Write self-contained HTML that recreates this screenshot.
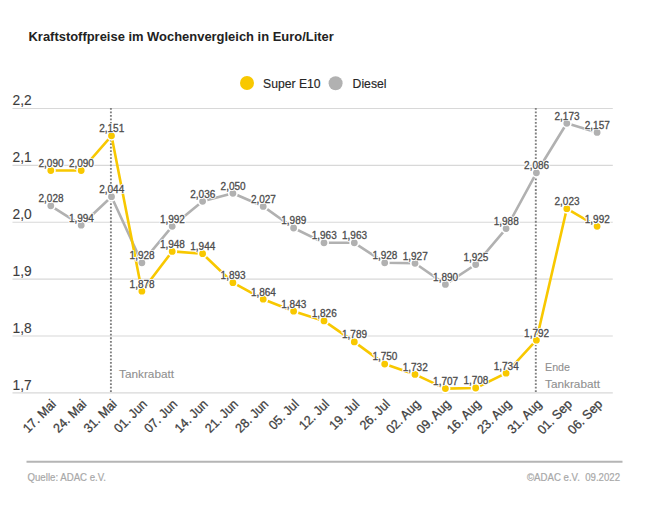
<!DOCTYPE html>
<html><head><meta charset="utf-8"><style>html,body{margin:0;padding:0;background:#fff;width:650px;height:515px;overflow:hidden}</style></head>
<body><svg width="650" height="515" viewBox="0 0 650 515" style="display:block;font-family:'Liberation Sans', sans-serif"><rect width="650" height="515" fill="#fff"/><text x="28.5" y="41.2" font-size="12.95" font-weight="bold" fill="#222">Kraftstoffpreise im Wochenvergleich in Euro/Liter</text><circle cx="247" cy="83" r="7" fill="#f8c800"/><text x="263" y="87.8" font-size="12.2" fill="#262626" stroke="#262626" stroke-width="0.15">Super E10</text><circle cx="335.6" cy="83.2" r="7" fill="#b1b1b1"/><text x="352.6" y="88" font-size="12.2" fill="#262626" stroke="#262626" stroke-width="0.15">Diesel</text><line x1="12.5" y1="108.50" x2="612.8" y2="108.50" stroke="#d8d8d8" stroke-width="1.2"/><text x="12.6" y="104.9" font-size="13.8" fill="#3c3c3c" stroke="#3c3c3c" stroke-width="0.1">2,2</text><line x1="12.5" y1="165.38" x2="612.8" y2="165.38" stroke="#d8d8d8" stroke-width="1.2"/><text x="12.6" y="161.9" font-size="13.8" fill="#3c3c3c" stroke="#3c3c3c" stroke-width="0.1">2,1</text><line x1="12.5" y1="222.25" x2="612.8" y2="222.25" stroke="#d8d8d8" stroke-width="1.2"/><text x="12.6" y="218.9" font-size="13.8" fill="#3c3c3c" stroke="#3c3c3c" stroke-width="0.1">2,0</text><line x1="12.5" y1="279.12" x2="612.8" y2="279.12" stroke="#d8d8d8" stroke-width="1.2"/><text x="12.6" y="275.9" font-size="13.8" fill="#3c3c3c" stroke="#3c3c3c" stroke-width="0.1">1,9</text><line x1="12.5" y1="336.00" x2="612.8" y2="336.00" stroke="#d8d8d8" stroke-width="1.2"/><text x="12.6" y="332.9" font-size="13.8" fill="#3c3c3c" stroke="#3c3c3c" stroke-width="0.1">1,8</text><line x1="12.5" y1="392.88" x2="612.8" y2="392.88" stroke="#d8d8d8" stroke-width="1.2"/><text x="12.6" y="389.9" font-size="13.8" fill="#3c3c3c" stroke="#3c3c3c" stroke-width="0.1">1,7</text><line x1="110.9" y1="107.9" x2="110.9" y2="393.60000000000014" stroke="#808080" stroke-width="1.9" stroke-dasharray="1.8,1.73"/><line x1="535.8" y1="107.9" x2="535.8" y2="393.60000000000014" stroke="#808080" stroke-width="1.9" stroke-dasharray="1.8,1.73"/><text x="119" y="377.8" font-size="11.8" fill="#8f8f8f" stroke="#8f8f8f" stroke-width="0.1">Tankrabatt</text><text x="545" y="371.1" font-size="11.8" textLength="25" lengthAdjust="spacingAndGlyphs" fill="#8f8f8f" stroke="#8f8f8f" stroke-width="0.1">Ende</text><text x="545" y="387.9" font-size="11.8" fill="#8f8f8f" stroke="#8f8f8f" stroke-width="0.1">Tankrabatt</text><text transform="translate(56.8,404.9) rotate(-45) scale(0.95,1)" text-anchor="end" font-size="13" fill="#3e3e3e" stroke="#3e3e3e" stroke-width="0.3" xml:space="preserve">17. Mai</text><text transform="translate(87.2,404.9) rotate(-45) scale(0.95,1)" text-anchor="end" font-size="13" fill="#3e3e3e" stroke="#3e3e3e" stroke-width="0.3" xml:space="preserve">24. Mai</text><text transform="translate(117.5,404.9) rotate(-45) scale(0.95,1)" text-anchor="end" font-size="13" fill="#3e3e3e" stroke="#3e3e3e" stroke-width="0.3" xml:space="preserve">31. Mai</text><text transform="translate(147.9,404.9) rotate(-45) scale(0.95,1)" text-anchor="end" font-size="13" fill="#3e3e3e" stroke="#3e3e3e" stroke-width="0.3" xml:space="preserve">01. Jun</text><text transform="translate(178.2,404.9) rotate(-45) scale(0.95,1)" text-anchor="end" font-size="13" fill="#3e3e3e" stroke="#3e3e3e" stroke-width="0.3" xml:space="preserve">07. Jun</text><text transform="translate(208.6,404.9) rotate(-45) scale(0.95,1)" text-anchor="end" font-size="13" fill="#3e3e3e" stroke="#3e3e3e" stroke-width="0.3" xml:space="preserve">14. Jun</text><text transform="translate(238.9,404.9) rotate(-45) scale(0.95,1)" text-anchor="end" font-size="13" fill="#3e3e3e" stroke="#3e3e3e" stroke-width="0.3" xml:space="preserve">21. Jun</text><text transform="translate(269.2,404.9) rotate(-45) scale(0.95,1)" text-anchor="end" font-size="13" fill="#3e3e3e" stroke="#3e3e3e" stroke-width="0.3" xml:space="preserve">28. Jun</text><text transform="translate(299.6,404.9) rotate(-45) scale(0.95,1)" text-anchor="end" font-size="13" fill="#3e3e3e" stroke="#3e3e3e" stroke-width="0.3" xml:space="preserve">05. Jul</text><text transform="translate(330.0,404.9) rotate(-45) scale(0.95,1)" text-anchor="end" font-size="13" fill="#3e3e3e" stroke="#3e3e3e" stroke-width="0.3" xml:space="preserve">12. Jul</text><text transform="translate(360.3,404.9) rotate(-45) scale(0.95,1)" text-anchor="end" font-size="13" fill="#3e3e3e" stroke="#3e3e3e" stroke-width="0.3" xml:space="preserve">19. Jul</text><text transform="translate(390.7,404.9) rotate(-45) scale(0.95,1)" text-anchor="end" font-size="13" fill="#3e3e3e" stroke="#3e3e3e" stroke-width="0.3" xml:space="preserve">26. Jul</text><text transform="translate(421.0,404.9) rotate(-45) scale(0.95,1)" text-anchor="end" font-size="13" fill="#3e3e3e" stroke="#3e3e3e" stroke-width="0.3" xml:space="preserve">02. Aug</text><text transform="translate(451.4,404.9) rotate(-45) scale(0.95,1)" text-anchor="end" font-size="13" fill="#3e3e3e" stroke="#3e3e3e" stroke-width="0.3" xml:space="preserve">09. Aug</text><text transform="translate(481.7,404.9) rotate(-45) scale(0.95,1)" text-anchor="end" font-size="13" fill="#3e3e3e" stroke="#3e3e3e" stroke-width="0.3" xml:space="preserve">16. Aug</text><text transform="translate(512.0,404.9) rotate(-45) scale(0.95,1)" text-anchor="end" font-size="13" fill="#3e3e3e" stroke="#3e3e3e" stroke-width="0.3" xml:space="preserve">23. Aug</text><text transform="translate(542.4,404.9) rotate(-45) scale(0.95,1)" text-anchor="end" font-size="13" fill="#3e3e3e" stroke="#3e3e3e" stroke-width="0.3" xml:space="preserve">31. Aug</text><text transform="translate(572.8,404.9) rotate(-45) scale(0.95,1)" text-anchor="end" font-size="13" fill="#3e3e3e" stroke="#3e3e3e" stroke-width="0.3" xml:space="preserve">01. Sep</text><text transform="translate(603.1,404.9) rotate(-45) scale(0.95,1)" text-anchor="end" font-size="13" fill="#3e3e3e" stroke="#3e3e3e" stroke-width="0.3" xml:space="preserve">06. Sep</text><polyline points="50.8,205.8 81.2,225.2 111.5,196.7 141.9,262.8 172.2,226.3 202.6,201.3 232.9,193.3 263.2,206.4 293.6,228.0 324.0,242.8 354.3,242.8 384.7,262.8 415.0,263.3 445.4,284.4 475.7,264.5 506.1,228.6 536.4,172.8 566.8,123.3 597.1,132.4" fill="none" stroke="#b1b1b1" stroke-width="2.6" stroke-linejoin="round" stroke-linecap="round"/><circle cx="50.8" cy="205.8" r="4.2" fill="#b1b1b1" stroke="#fff" stroke-width="1.6"/><circle cx="81.2" cy="225.2" r="4.2" fill="#b1b1b1" stroke="#fff" stroke-width="1.6"/><circle cx="111.5" cy="196.7" r="4.2" fill="#b1b1b1" stroke="#fff" stroke-width="1.6"/><circle cx="141.9" cy="262.8" r="4.2" fill="#b1b1b1" stroke="#fff" stroke-width="1.6"/><circle cx="172.2" cy="226.3" r="4.2" fill="#b1b1b1" stroke="#fff" stroke-width="1.6"/><circle cx="202.6" cy="201.3" r="4.2" fill="#b1b1b1" stroke="#fff" stroke-width="1.6"/><circle cx="232.9" cy="193.3" r="4.2" fill="#b1b1b1" stroke="#fff" stroke-width="1.6"/><circle cx="263.2" cy="206.4" r="4.2" fill="#b1b1b1" stroke="#fff" stroke-width="1.6"/><circle cx="293.6" cy="228.0" r="4.2" fill="#b1b1b1" stroke="#fff" stroke-width="1.6"/><circle cx="324.0" cy="242.8" r="4.2" fill="#b1b1b1" stroke="#fff" stroke-width="1.6"/><circle cx="354.3" cy="242.8" r="4.2" fill="#b1b1b1" stroke="#fff" stroke-width="1.6"/><circle cx="384.7" cy="262.8" r="4.2" fill="#b1b1b1" stroke="#fff" stroke-width="1.6"/><circle cx="415.0" cy="263.3" r="4.2" fill="#b1b1b1" stroke="#fff" stroke-width="1.6"/><circle cx="445.4" cy="284.4" r="4.2" fill="#b1b1b1" stroke="#fff" stroke-width="1.6"/><circle cx="475.7" cy="264.5" r="4.2" fill="#b1b1b1" stroke="#fff" stroke-width="1.6"/><circle cx="506.1" cy="228.6" r="4.2" fill="#b1b1b1" stroke="#fff" stroke-width="1.6"/><circle cx="536.4" cy="172.8" r="4.2" fill="#b1b1b1" stroke="#fff" stroke-width="1.6"/><circle cx="566.8" cy="123.3" r="4.2" fill="#b1b1b1" stroke="#fff" stroke-width="1.6"/><circle cx="597.1" cy="132.4" r="4.2" fill="#b1b1b1" stroke="#fff" stroke-width="1.6"/><polyline points="50.8,170.5 81.2,170.5 111.5,135.8 141.9,291.2 172.2,251.4 202.6,253.7 232.9,282.7 263.2,299.2 293.6,311.2 324.0,320.9 354.3,341.9 384.7,364.1 415.0,374.4 445.4,388.6 475.7,388.0 506.1,373.2 536.4,340.2 566.8,208.7 597.1,226.3" fill="none" stroke="#f8c800" stroke-width="2.6" stroke-linejoin="round" stroke-linecap="round"/><circle cx="50.8" cy="170.5" r="4.2" fill="#f8c800" stroke="#fff" stroke-width="1.6"/><circle cx="81.2" cy="170.5" r="4.2" fill="#f8c800" stroke="#fff" stroke-width="1.6"/><circle cx="111.5" cy="135.8" r="4.2" fill="#f8c800" stroke="#fff" stroke-width="1.6"/><circle cx="141.9" cy="291.2" r="4.2" fill="#f8c800" stroke="#fff" stroke-width="1.6"/><circle cx="172.2" cy="251.4" r="4.2" fill="#f8c800" stroke="#fff" stroke-width="1.6"/><circle cx="202.6" cy="253.7" r="4.2" fill="#f8c800" stroke="#fff" stroke-width="1.6"/><circle cx="232.9" cy="282.7" r="4.2" fill="#f8c800" stroke="#fff" stroke-width="1.6"/><circle cx="263.2" cy="299.2" r="4.2" fill="#f8c800" stroke="#fff" stroke-width="1.6"/><circle cx="293.6" cy="311.2" r="4.2" fill="#f8c800" stroke="#fff" stroke-width="1.6"/><circle cx="324.0" cy="320.9" r="4.2" fill="#f8c800" stroke="#fff" stroke-width="1.6"/><circle cx="354.3" cy="341.9" r="4.2" fill="#f8c800" stroke="#fff" stroke-width="1.6"/><circle cx="384.7" cy="364.1" r="4.2" fill="#f8c800" stroke="#fff" stroke-width="1.6"/><circle cx="415.0" cy="374.4" r="4.2" fill="#f8c800" stroke="#fff" stroke-width="1.6"/><circle cx="445.4" cy="388.6" r="4.2" fill="#f8c800" stroke="#fff" stroke-width="1.6"/><circle cx="475.7" cy="388.0" r="4.2" fill="#f8c800" stroke="#fff" stroke-width="1.6"/><circle cx="506.1" cy="373.2" r="4.2" fill="#f8c800" stroke="#fff" stroke-width="1.6"/><circle cx="536.4" cy="340.2" r="4.2" fill="#f8c800" stroke="#fff" stroke-width="1.6"/><circle cx="566.8" cy="208.7" r="4.2" fill="#f8c800" stroke="#fff" stroke-width="1.6"/><circle cx="597.1" cy="226.3" r="4.2" fill="#f8c800" stroke="#fff" stroke-width="1.6"/><text x="51.0" y="202.1" text-anchor="middle" font-size="10" letter-spacing="0" fill="#fff" stroke="#fff" stroke-width="2.2" stroke-linejoin="round">2,028</text><text x="81.4" y="221.5" text-anchor="middle" font-size="10" letter-spacing="0" fill="#fff" stroke="#fff" stroke-width="2.2" stroke-linejoin="round">1,994</text><text x="111.7" y="193.0" text-anchor="middle" font-size="10" letter-spacing="0" fill="#fff" stroke="#fff" stroke-width="2.2" stroke-linejoin="round">2,044</text><text x="142.1" y="259.1" text-anchor="middle" font-size="10" letter-spacing="0" fill="#fff" stroke="#fff" stroke-width="2.2" stroke-linejoin="round">1,928</text><text x="172.4" y="222.6" text-anchor="middle" font-size="10" letter-spacing="0" fill="#fff" stroke="#fff" stroke-width="2.2" stroke-linejoin="round">1,992</text><text x="202.8" y="197.6" text-anchor="middle" font-size="10" letter-spacing="0" fill="#fff" stroke="#fff" stroke-width="2.2" stroke-linejoin="round">2,036</text><text x="233.1" y="189.6" text-anchor="middle" font-size="10" letter-spacing="0" fill="#fff" stroke="#fff" stroke-width="2.2" stroke-linejoin="round">2,050</text><text x="263.4" y="202.7" text-anchor="middle" font-size="10" letter-spacing="0" fill="#fff" stroke="#fff" stroke-width="2.2" stroke-linejoin="round">2,027</text><text x="293.8" y="224.3" text-anchor="middle" font-size="10" letter-spacing="0" fill="#fff" stroke="#fff" stroke-width="2.2" stroke-linejoin="round">1,989</text><text x="324.2" y="239.1" text-anchor="middle" font-size="10" letter-spacing="0" fill="#fff" stroke="#fff" stroke-width="2.2" stroke-linejoin="round">1,963</text><text x="354.5" y="239.1" text-anchor="middle" font-size="10" letter-spacing="0" fill="#fff" stroke="#fff" stroke-width="2.2" stroke-linejoin="round">1,963</text><text x="384.9" y="259.1" text-anchor="middle" font-size="10" letter-spacing="0" fill="#fff" stroke="#fff" stroke-width="2.2" stroke-linejoin="round">1,928</text><text x="415.2" y="259.6" text-anchor="middle" font-size="10" letter-spacing="0" fill="#fff" stroke="#fff" stroke-width="2.2" stroke-linejoin="round">1,927</text><text x="445.6" y="280.7" text-anchor="middle" font-size="10" letter-spacing="0" fill="#fff" stroke="#fff" stroke-width="2.2" stroke-linejoin="round">1,890</text><text x="475.9" y="260.8" text-anchor="middle" font-size="10" letter-spacing="0" fill="#fff" stroke="#fff" stroke-width="2.2" stroke-linejoin="round">1,925</text><text x="506.2" y="224.9" text-anchor="middle" font-size="10" letter-spacing="0" fill="#fff" stroke="#fff" stroke-width="2.2" stroke-linejoin="round">1,988</text><text x="536.6" y="169.1" text-anchor="middle" font-size="10" letter-spacing="0" fill="#fff" stroke="#fff" stroke-width="2.2" stroke-linejoin="round">2,086</text><text x="567.0" y="119.6" text-anchor="middle" font-size="10" letter-spacing="0" fill="#fff" stroke="#fff" stroke-width="2.2" stroke-linejoin="round">2,173</text><text x="597.3" y="128.7" text-anchor="middle" font-size="10" letter-spacing="0" fill="#fff" stroke="#fff" stroke-width="2.2" stroke-linejoin="round">2,157</text><text x="51.0" y="166.8" text-anchor="middle" font-size="10" letter-spacing="0" fill="#fff" stroke="#fff" stroke-width="2.2" stroke-linejoin="round">2,090</text><text x="81.4" y="166.8" text-anchor="middle" font-size="10" letter-spacing="0" fill="#fff" stroke="#fff" stroke-width="2.2" stroke-linejoin="round">2,090</text><text x="111.7" y="132.1" text-anchor="middle" font-size="10" letter-spacing="0" fill="#fff" stroke="#fff" stroke-width="2.2" stroke-linejoin="round">2,151</text><text x="142.1" y="287.5" text-anchor="middle" font-size="10" letter-spacing="0" fill="#fff" stroke="#fff" stroke-width="2.2" stroke-linejoin="round">1,878</text><text x="172.4" y="247.7" text-anchor="middle" font-size="10" letter-spacing="0" fill="#fff" stroke="#fff" stroke-width="2.2" stroke-linejoin="round">1,948</text><text x="202.8" y="250.0" text-anchor="middle" font-size="10" letter-spacing="0" fill="#fff" stroke="#fff" stroke-width="2.2" stroke-linejoin="round">1,944</text><text x="233.1" y="279.0" text-anchor="middle" font-size="10" letter-spacing="0" fill="#fff" stroke="#fff" stroke-width="2.2" stroke-linejoin="round">1,893</text><text x="263.4" y="295.5" text-anchor="middle" font-size="10" letter-spacing="0" fill="#fff" stroke="#fff" stroke-width="2.2" stroke-linejoin="round">1,864</text><text x="293.8" y="307.5" text-anchor="middle" font-size="10" letter-spacing="0" fill="#fff" stroke="#fff" stroke-width="2.2" stroke-linejoin="round">1,843</text><text x="324.2" y="317.2" text-anchor="middle" font-size="10" letter-spacing="0" fill="#fff" stroke="#fff" stroke-width="2.2" stroke-linejoin="round">1,826</text><text x="354.5" y="338.2" text-anchor="middle" font-size="10" letter-spacing="0" fill="#fff" stroke="#fff" stroke-width="2.2" stroke-linejoin="round">1,789</text><text x="384.9" y="360.4" text-anchor="middle" font-size="10" letter-spacing="0" fill="#fff" stroke="#fff" stroke-width="2.2" stroke-linejoin="round">1,750</text><text x="415.2" y="370.7" text-anchor="middle" font-size="10" letter-spacing="0" fill="#fff" stroke="#fff" stroke-width="2.2" stroke-linejoin="round">1,732</text><text x="445.6" y="384.9" text-anchor="middle" font-size="10" letter-spacing="0" fill="#fff" stroke="#fff" stroke-width="2.2" stroke-linejoin="round">1,707</text><text x="475.9" y="384.3" text-anchor="middle" font-size="10" letter-spacing="0" fill="#fff" stroke="#fff" stroke-width="2.2" stroke-linejoin="round">1,708</text><text x="506.2" y="369.5" text-anchor="middle" font-size="10" letter-spacing="0" fill="#fff" stroke="#fff" stroke-width="2.2" stroke-linejoin="round">1,734</text><text x="536.6" y="336.5" text-anchor="middle" font-size="10" letter-spacing="0" fill="#fff" stroke="#fff" stroke-width="2.2" stroke-linejoin="round">1,792</text><text x="567.0" y="205.0" text-anchor="middle" font-size="10" letter-spacing="0" fill="#fff" stroke="#fff" stroke-width="2.2" stroke-linejoin="round">2,023</text><text x="597.3" y="222.6" text-anchor="middle" font-size="10" letter-spacing="0" fill="#fff" stroke="#fff" stroke-width="2.2" stroke-linejoin="round">1,992</text><text x="51.0" y="202.1" text-anchor="middle" font-size="10" letter-spacing="0" fill="#4c4c4c" stroke="#4c4c4c" stroke-width="0.28">2,028</text><text x="81.4" y="221.5" text-anchor="middle" font-size="10" letter-spacing="0" fill="#4c4c4c" stroke="#4c4c4c" stroke-width="0.28">1,994</text><text x="111.7" y="193.0" text-anchor="middle" font-size="10" letter-spacing="0" fill="#4c4c4c" stroke="#4c4c4c" stroke-width="0.28">2,044</text><text x="142.1" y="259.1" text-anchor="middle" font-size="10" letter-spacing="0" fill="#4c4c4c" stroke="#4c4c4c" stroke-width="0.28">1,928</text><text x="172.4" y="222.6" text-anchor="middle" font-size="10" letter-spacing="0" fill="#4c4c4c" stroke="#4c4c4c" stroke-width="0.28">1,992</text><text x="202.8" y="197.6" text-anchor="middle" font-size="10" letter-spacing="0" fill="#4c4c4c" stroke="#4c4c4c" stroke-width="0.28">2,036</text><text x="233.1" y="189.6" text-anchor="middle" font-size="10" letter-spacing="0" fill="#4c4c4c" stroke="#4c4c4c" stroke-width="0.28">2,050</text><text x="263.4" y="202.7" text-anchor="middle" font-size="10" letter-spacing="0" fill="#4c4c4c" stroke="#4c4c4c" stroke-width="0.28">2,027</text><text x="293.8" y="224.3" text-anchor="middle" font-size="10" letter-spacing="0" fill="#4c4c4c" stroke="#4c4c4c" stroke-width="0.28">1,989</text><text x="324.2" y="239.1" text-anchor="middle" font-size="10" letter-spacing="0" fill="#4c4c4c" stroke="#4c4c4c" stroke-width="0.28">1,963</text><text x="354.5" y="239.1" text-anchor="middle" font-size="10" letter-spacing="0" fill="#4c4c4c" stroke="#4c4c4c" stroke-width="0.28">1,963</text><text x="384.9" y="259.1" text-anchor="middle" font-size="10" letter-spacing="0" fill="#4c4c4c" stroke="#4c4c4c" stroke-width="0.28">1,928</text><text x="415.2" y="259.6" text-anchor="middle" font-size="10" letter-spacing="0" fill="#4c4c4c" stroke="#4c4c4c" stroke-width="0.28">1,927</text><text x="445.6" y="280.7" text-anchor="middle" font-size="10" letter-spacing="0" fill="#4c4c4c" stroke="#4c4c4c" stroke-width="0.28">1,890</text><text x="475.9" y="260.8" text-anchor="middle" font-size="10" letter-spacing="0" fill="#4c4c4c" stroke="#4c4c4c" stroke-width="0.28">1,925</text><text x="506.2" y="224.9" text-anchor="middle" font-size="10" letter-spacing="0" fill="#4c4c4c" stroke="#4c4c4c" stroke-width="0.28">1,988</text><text x="536.6" y="169.1" text-anchor="middle" font-size="10" letter-spacing="0" fill="#4c4c4c" stroke="#4c4c4c" stroke-width="0.28">2,086</text><text x="567.0" y="119.6" text-anchor="middle" font-size="10" letter-spacing="0" fill="#4c4c4c" stroke="#4c4c4c" stroke-width="0.28">2,173</text><text x="597.3" y="128.7" text-anchor="middle" font-size="10" letter-spacing="0" fill="#4c4c4c" stroke="#4c4c4c" stroke-width="0.28">2,157</text><text x="51.0" y="166.8" text-anchor="middle" font-size="10" letter-spacing="0" fill="#4c4c4c" stroke="#4c4c4c" stroke-width="0.28">2,090</text><text x="81.4" y="166.8" text-anchor="middle" font-size="10" letter-spacing="0" fill="#4c4c4c" stroke="#4c4c4c" stroke-width="0.28">2,090</text><text x="111.7" y="132.1" text-anchor="middle" font-size="10" letter-spacing="0" fill="#4c4c4c" stroke="#4c4c4c" stroke-width="0.28">2,151</text><text x="142.1" y="287.5" text-anchor="middle" font-size="10" letter-spacing="0" fill="#4c4c4c" stroke="#4c4c4c" stroke-width="0.28">1,878</text><text x="172.4" y="247.7" text-anchor="middle" font-size="10" letter-spacing="0" fill="#4c4c4c" stroke="#4c4c4c" stroke-width="0.28">1,948</text><text x="202.8" y="250.0" text-anchor="middle" font-size="10" letter-spacing="0" fill="#4c4c4c" stroke="#4c4c4c" stroke-width="0.28">1,944</text><text x="233.1" y="279.0" text-anchor="middle" font-size="10" letter-spacing="0" fill="#4c4c4c" stroke="#4c4c4c" stroke-width="0.28">1,893</text><text x="263.4" y="295.5" text-anchor="middle" font-size="10" letter-spacing="0" fill="#4c4c4c" stroke="#4c4c4c" stroke-width="0.28">1,864</text><text x="293.8" y="307.5" text-anchor="middle" font-size="10" letter-spacing="0" fill="#4c4c4c" stroke="#4c4c4c" stroke-width="0.28">1,843</text><text x="324.2" y="317.2" text-anchor="middle" font-size="10" letter-spacing="0" fill="#4c4c4c" stroke="#4c4c4c" stroke-width="0.28">1,826</text><text x="354.5" y="338.2" text-anchor="middle" font-size="10" letter-spacing="0" fill="#4c4c4c" stroke="#4c4c4c" stroke-width="0.28">1,789</text><text x="384.9" y="360.4" text-anchor="middle" font-size="10" letter-spacing="0" fill="#4c4c4c" stroke="#4c4c4c" stroke-width="0.28">1,750</text><text x="415.2" y="370.7" text-anchor="middle" font-size="10" letter-spacing="0" fill="#4c4c4c" stroke="#4c4c4c" stroke-width="0.28">1,732</text><text x="445.6" y="384.9" text-anchor="middle" font-size="10" letter-spacing="0" fill="#4c4c4c" stroke="#4c4c4c" stroke-width="0.28">1,707</text><text x="475.9" y="384.3" text-anchor="middle" font-size="10" letter-spacing="0" fill="#4c4c4c" stroke="#4c4c4c" stroke-width="0.28">1,708</text><text x="506.2" y="369.5" text-anchor="middle" font-size="10" letter-spacing="0" fill="#4c4c4c" stroke="#4c4c4c" stroke-width="0.28">1,734</text><text x="536.6" y="336.5" text-anchor="middle" font-size="10" letter-spacing="0" fill="#4c4c4c" stroke="#4c4c4c" stroke-width="0.28">1,792</text><text x="567.0" y="205.0" text-anchor="middle" font-size="10" letter-spacing="0" fill="#4c4c4c" stroke="#4c4c4c" stroke-width="0.28">2,023</text><text x="597.3" y="222.6" text-anchor="middle" font-size="10" letter-spacing="0" fill="#4c4c4c" stroke="#4c4c4c" stroke-width="0.28">1,992</text><line x1="26.5" y1="461.7" x2="622.5" y2="461.7" stroke="#b5b5b5" stroke-width="2"/><text x="27.5" y="481.3" font-size="10.8" textLength="78.5" lengthAdjust="spacingAndGlyphs" fill="#a8a8a8" stroke="#a8a8a8" stroke-width="0.2">Quelle: ADAC e.V.</text><text x="527" y="481.3" font-size="10.8" textLength="93" lengthAdjust="spacingAndGlyphs" fill="#a8a8a8" stroke="#a8a8a8" stroke-width="0.2" xml:space="preserve">©ADAC e.V.  09.2022</text></svg></body></html>
